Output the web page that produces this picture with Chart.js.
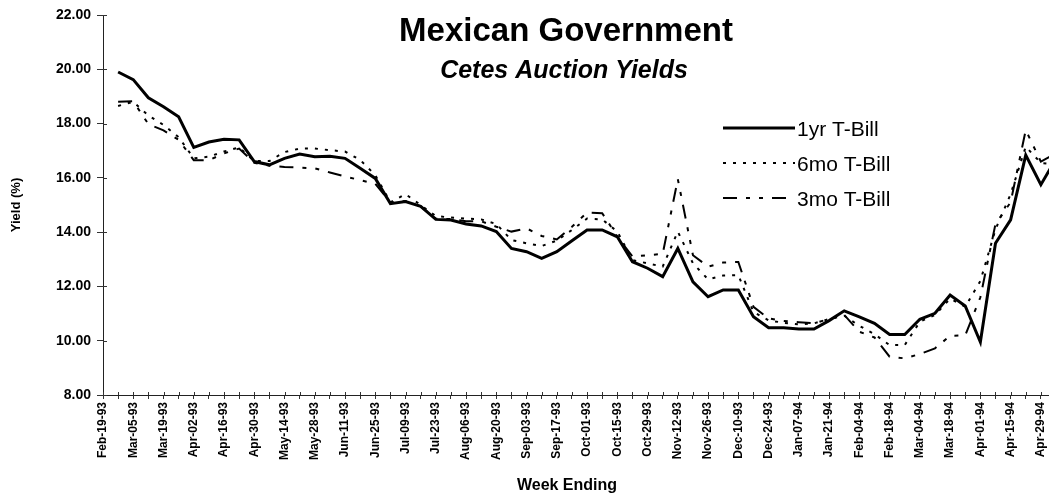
<!DOCTYPE html>
<html>
<head>
<meta charset="utf-8">
<title>Mexican Government - Cetes Auction Yields</title>
<script src="https://cdn.jsdelivr.net/npm/chart.js@4.4.1/dist/chart.umd.min.js"></script>
<style>
	html, body { margin: 0; padding: 0; background: #fff; overflow: hidden; }
	#chart { display: block; }
</style>
</head>
<body>
<canvas id="chart" width="1064" height="498"></canvas>
<script>
// weekly auction dates (every other one is labelled on the axis)
const weeks = [
	"Feb-19-93", "Feb-26-93", "Mar-05-93", "Mar-12-93", "Mar-19-93", "Mar-26-93",
	"Apr-02-93", "Apr-09-93", "Apr-16-93", "Apr-23-93", "Apr-30-93", "May-07-93",
	"May-14-93", "May-21-93", "May-28-93", "Jun-04-93", "Jun-11-93", "Jun-18-93",
	"Jun-25-93", "Jul-02-93", "Jul-09-93", "Jul-16-93", "Jul-23-93", "Jul-30-93",
	"Aug-06-93", "Aug-13-93", "Aug-20-93", "Aug-27-93", "Sep-03-93", "Sep-10-93",
	"Sep-17-93", "Sep-24-93", "Oct-01-93", "Oct-08-93", "Oct-15-93", "Oct-22-93",
	"Oct-29-93", "Nov-05-93", "Nov-12-93", "Nov-19-93", "Nov-26-93", "Dec-03-93",
	"Dec-10-93", "Dec-17-93", "Dec-24-93", "Dec-31-93", "Jan-07-94", "Jan-14-94",
	"Jan-21-94", "Jan-28-94", "Feb-04-94", "Feb-11-94", "Feb-18-94", "Feb-25-94",
	"Mar-04-94", "Mar-11-94", "Mar-18-94", "Mar-25-94", "Apr-01-94", "Apr-08-94",
	"Apr-15-94", "Apr-22-94", "Apr-29-94", "May-06-94"
];

const oneYear = [
	null, 19.90, 19.62, 18.95, 18.62, 18.25, 17.12, 17.32, 17.42, 17.40,
	16.60, 16.48, 16.72, 16.88, 16.78, 16.80, 16.72, 16.35, 15.98, 15.05,
	15.13, 14.95, 14.47, 14.45, 14.30, 14.23, 14.02, 13.40, 13.28, 13.03,
	13.28, 13.68, 14.08, 14.08, 13.83, 12.91, 12.67, 12.36, 13.40, 12.17,
	11.62, 11.87, 11.87, 10.88, 10.48, 10.48, 10.43, 10.43, 10.74, 11.10,
	10.88, 10.64, 10.23, 10.23, 10.79, 11.01, 11.68, 11.28, 9.95, 13.59,
	14.45, 16.84, 15.75, 16.70
];

const sixMonth = [
	null, 18.65, 18.80, 18.30, 17.95, 17.50, 16.72, 16.78, 16.97, 17.12,
	16.62, 16.62, 16.95, 17.08, 17.08, 17.02, 16.97, 16.66, 16.10, 15.10,
	15.40, 15.00, 14.59, 14.54, 14.50, 14.47, 14.30, 13.71, 13.59, 13.49,
	13.69, 14.08, 14.50, 14.47, 14.02, 12.97, 12.85, 12.73, 14.02, 12.85,
	12.26, 12.40, 12.42, 11.06, 10.75, 10.66, 10.60, 10.64, 10.80, 10.92,
	10.55, 10.24, 9.84, 9.84, 10.70, 10.95, 11.55, 11.25, 12.20, 14.10,
	15.40, 17.15, 16.55, 16.50
];

const threeMonth = [
	null, 18.80, 18.82, 17.98, 17.75, 17.40, 16.65, 16.65, 16.90, 17.08,
	16.55, 16.45, 16.40, 16.38, 16.35, 16.20, 16.05, 15.92, 15.78, 15.10,
	15.15, 14.95, 14.50, 14.48, 14.40, 14.40, 14.20, 14.02, 14.14, 13.86,
	13.73, 14.20, 14.72, 14.70, 13.84, 13.10, 13.15, 13.20, 15.95, 13.15,
	12.73, 12.88, 12.90, 11.25, 10.82, 10.73, 10.68, 10.64, 10.80, 10.95,
	10.33, 10.12, 9.41, 9.35, 9.51, 9.72, 10.18, 10.20, 11.60, 14.30,
	15.10, 17.76, 16.60, 16.90
];

const seriesNames = ["1yr T-Bill", "6mo T-Bill", "3mo T-Bill"];
const yTicks = [8, 10, 12, 14, 16, 18, 20, 22];

const FONT = "'Liberation Sans', Arial, sans-serif";

// titles, the in-plot legend, and the short inner halves of the axis ticks
const overlay = {
	id: "overlay",
	afterDraw (chart) {
		const ctx = chart.ctx;
		const { x, y } = chart.scales;
		const area = chart.chartArea;
		ctx.save();

		ctx.strokeStyle = "#333";
		ctx.lineWidth = 1;
		ctx.beginPath();
		y.ticks.forEach((t) => {
			const py = Math.round(y.getPixelForValue(t.value)) + 0.5;
			ctx.moveTo(area.left, py);
			ctx.lineTo(area.left + 4, py);
		});
		x.ticks.forEach((t, i) => {
			const px = Math.round(x.getPixelForTick(i)) + 0.5;
			ctx.moveTo(px, area.bottom);
			ctx.lineTo(px, area.bottom - 3);
		});
		ctx.stroke();

		ctx.fillStyle = "#000";
		ctx.textAlign = "center";
		ctx.textBaseline = "alphabetic";
		ctx.font = `bold 33px ${FONT}`;
		ctx.fillText("Mexican Government", 566, 41);
		ctx.font = `italic bold 25px ${FONT}`;
		ctx.fillText("Cetes Auction Yields", 564, 78);
		ctx.font = `bold 16px ${FONT}`;
		ctx.fillText("Week Ending", 567, 490);

		const rows = [128, 163, 198];
		chart.data.datasets.forEach((ds, i) => {
			const ly = rows[i];
			ctx.strokeStyle = ds.borderColor;
			ctx.lineWidth = ds.borderWidth;
			ctx.setLineDash(ds.borderDash || []);
			ctx.beginPath();
			ctx.moveTo(723, ly);
			ctx.lineTo(795, ly);
			ctx.stroke();
			ctx.setLineDash([]);
			ctx.textAlign = "left";
			ctx.font = `21px ${FONT}`;
			ctx.fillText(ds.label, 797, ly + 8);
		});
		ctx.restore();
	}
};

new Chart(document.getElementById("chart"), {
	type: "line",
	data: {
		labels: weeks,
		datasets: [
			{
				label: seriesNames[0],
				data: oneYear,
				borderColor: "#000",
				borderWidth: 3,
				pointRadius: 0,
				tension: 0
			},
			{
				label: seriesNames[1],
				data: sixMonth,
				borderColor: "#000",
				borderWidth: 2,
				borderDash: [3, 7],
				pointRadius: 0,
				tension: 0
			},
			{
				label: seriesNames[2],
				data: threeMonth,
				borderColor: "#000",
				borderWidth: 2,
				borderDash: [14, 9, 4, 9, 4, 9],
				pointRadius: 0,
				tension: 0
			}
		]
	},
	options: {
		responsive: false,
		animation: false,
		devicePixelRatio: 1,
		layout: { padding: { top: 15, right: 8, left: 0, bottom: 0 } },
		plugins: {
			legend: { display: false },
			tooltip: { enabled: false }
		},
		scales: {
			x: {
				type: "category",
				offset: false,
				afterFit (scale) {
					// fixed band under the plot; no extra side padding for rotated labels
					scale.height = 103;
					scale.paddingLeft = 0;
					scale.paddingRight = 0;
				},
				grid: { drawOnChartArea: false, drawTicks: true, tickLength: 4, color: "#333" },
				border: { display: true, color: "#222", width: 1 },
				ticks: {
					autoSkip: false,
					minRotation: 90,
					maxRotation: 90,
					padding: 3,
					color: "#000",
					font: { family: FONT, size: 12, weight: "bold" },
					callback: (value, index) => (index % 2 === 0 ? weeks[index] : "")
				}
			},
			y: {
				min: yTicks[0],
				max: yTicks[yTicks.length - 1],
				afterFit (scale) { scale.width = 103; },
				afterBuildTicks (scale) { scale.ticks = yTicks.map((v) => ({ value: v })); },
				grid: { drawOnChartArea: false, drawTicks: true, tickLength: 6, color: "#333" },
				border: { display: true, color: "#222", width: 1 },
				ticks: {
					padding: 6,
					color: "#000",
					font: { family: FONT, size: 14, weight: "bold" },
					callback: (value) => Number(value).toFixed(2)
				},
				title: {
					display: true,
					text: "Yield (%)",
					color: "#000",
					padding: { top: 9, bottom: 0 },
					font: { family: FONT, size: 13, weight: "bold" }
				}
			}
		}
	},
	plugins: [overlay]
});
</script>
</body>
</html>
